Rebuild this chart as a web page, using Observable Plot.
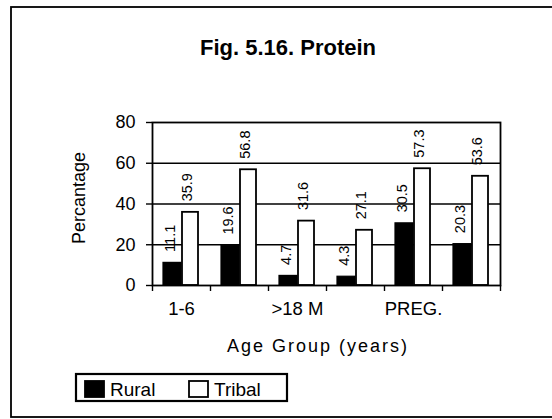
<!DOCTYPE html>
<html>
<head>
<meta charset="utf-8">
<script src="https://cdn.jsdelivr.net/npm/d3@7"></script>
<script src="https://cdn.jsdelivr.net/npm/@observablehq/plot@0.6"></script>
<style>
  html, body { margin: 0; padding: 0; background: #fff; }
  #chart { width: 552px; height: 419px; overflow: hidden; }
  svg { font-family: "Liberation Sans", Arial, sans-serif; }
</style>
</head>
<body>
<div id="chart"></div>
<script>
// ---- data ----
const groups = ["1-6", "7-18", ">18 M", ">18 F", "PREG.", "LACT."];
const shownLabels = ["1-6", ">18 M", "PREG."];
const series = ["Rural", "Tribal"];
const rural = [11.1, 19.6, 4.7, 4.3, 30.5, 20.3];
const tribal = [35.9, 56.8, 31.6, 27.1, 57.3, 53.6];
const yTicks = [0, 20, 40, 60, 80];
const gridTicks = [20, 40, 60];
const title = "Fig. 5.16. Protein";
const yLabel = "Percantage";
const xLabel = "Age Group (years)";

const data = groups.flatMap((g, i) => [
  {group: g, series: "Rural", value: rural[i]},
  {group: g, series: "Tribal", value: tribal[i]}
]);
const ruralData = data.filter(d => d.series === "Rural");
const tribalData = data.filter(d => d.series === "Tribal");

const W = 552, H = 419;
const mL = 152, mR = 52, mT = 122, mB = 134;
const band = (W - mL - mR) / groups.length;

const plot = Plot.plot({
  width: W,
  height: H,
  marginLeft: mL,
  marginRight: mR,
  marginTop: mT,
  marginBottom: mB,
  style: {fontFamily: "Liberation Sans, Arial, sans-serif", color: "#000", background: "#fff"},
  x: {domain: groups, padding: 0, label: null},
  y: {domain: [0, 80], label: null},
  color: {domain: series, range: ["#000", "#fff"]},
  marks: [
    Plot.ruleY(gridTicks, {stroke: "#000", strokeWidth: 1.4}),
    Plot.barY(ruralData, {x: "group", y: "value", fill: "#000", stroke: "#000", strokeWidth: 1.2, insetLeft: 11, insetRight: 29}),
    Plot.barY(tribalData, {x: "group", y: "value", fill: "#fff", stroke: "#000", strokeWidth: 1.8, insetLeft: 30, insetRight: 12}),
    Plot.text(ruralData, {x: "group", y: "value", text: d => d.value.toFixed(1), rotate: -90, textAnchor: "start", dx: -11, dy: -11, fontSize: 14.5, fill: "#000"}),
    Plot.text(tribalData, {x: "group", y: "value", text: d => d.value.toFixed(1), rotate: -90, textAnchor: "start", dx: 6, dy: -11, fontSize: 14.5, fill: "#000"}),
    Plot.frame({stroke: "#000", strokeWidth: 1.8}),
    Plot.axisY(yTicks, {tickSize: 6, tickPadding: 11, fontSize: 18, stroke: "#000", strokeWidth: 1.4}),
    Plot.axisX(groups, {tickSize: 6, dx: -band / 2, tickFormat: () => "", stroke: "#000", strokeWidth: 1.4}),
    Plot.axisX([groups[groups.length - 1]], {tickSize: 6, dx: band / 2, tickFormat: () => "", stroke: "#000", strokeWidth: 1.4}),
    Plot.axisX(shownLabels, {tickSize: 0, tickPadding: 16, fontSize: 18.5, fill: "#000"})
  ]
});

const svg = d3.select(plot);
// outer frame
svg.append("rect").attr("x", 11).attr("y", 7).attr("width", 560).attr("height", 410)
  .attr("fill", "none").attr("stroke", "#000").attr("stroke-width", 1.8);
// title
svg.append("text").attr("x", 288).attr("y", 55).attr("text-anchor", "middle")
  .attr("font-size", 22).attr("font-weight", "bold").attr("fill", "#000").text(title);
// y label
svg.append("text").attr("transform", "translate(85,198) rotate(-90)").attr("text-anchor", "middle")
  .attr("font-size", 18).attr("fill", "#000").text(yLabel);
// x label
svg.append("text").attr("x", 318).attr("y", 352).attr("text-anchor", "middle")
  .attr("font-size", 18).attr("letter-spacing", 2).attr("fill", "#000").text(xLabel);
// legend
const lg = svg.append("g");
lg.append("rect").attr("x", 76).attr("y", 374).attr("width", 211).attr("height", 27)
  .attr("fill", "#fff").attr("stroke", "#000").attr("stroke-width", 2.2);
const items = [{s: series[0], x: 85, fill: "#000"}, {s: series[1], x: 189, fill: "#fff"}];
for (const it of items) {
  lg.append("rect").attr("x", it.x).attr("y", 381).attr("width", 19).attr("height", 16)
    .attr("fill", it.fill).attr("stroke", "#000").attr("stroke-width", 1.8);
  lg.append("text").attr("x", it.x + 25).attr("y", 396).attr("text-anchor", "start")
    .attr("font-size", 19).attr("fill", "#000").text(it.s);
}

document.getElementById("chart").appendChild(plot);
</script>
</body>
</html>
